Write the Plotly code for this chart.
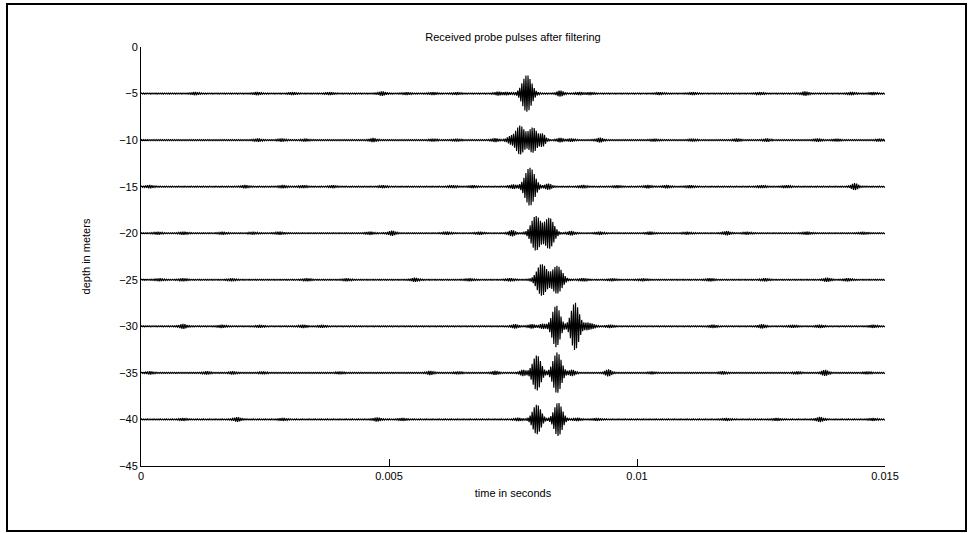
import numpy as np
import plotly.graph_objects as go

# ---------------- data ----------------
DEPTHS = [-5, -10, -15, -20, -25, -30, -35, -40]          # m (trace baselines)
T_END_S = 0.015
X_TICKS = [0, 0.005, 0.01, 0.015]
X_TICK_TEXT = ["0", "0.005", "0.01", "0.015"]
Y_TICKS = [0, -5, -10, -15, -20, -25, -30, -35, -40, -45]
Y_TICK_TEXT = ["0", "\u22125", "\u221210", "\u221215", "\u221220", "\u221225",
               "\u221230", "\u221235", "\u221240", "\u221245"]

# main received pulses per trace: centre (ms), peak amplitude (m units), envelope width (ms)
PULSE_MS = [[7.78], [7.64, 7.90, 8.10], [7.84], [7.96, 8.23], [8.08, 8.39],
            [8.37, 8.75], [7.98, 8.39], [7.98, 8.41]]
PULSE_AMP = [[1.93], [1.5, 1.3, 0.6], [2.0], [1.8, 1.6], [1.65, 1.45],
             [2.2, 2.5], [1.85, 2.15], [1.55, 1.75]]
PULSE_WIDTH_MS = [[0.092], [0.085, 0.085, 0.05], [0.095], [0.09, 0.09], [0.095, 0.095],
                  [0.078, 0.078], [0.08, 0.082], [0.08, 0.08]]

# small echoes / clutter bursts along each trace: centre (ms) and amplitude
ECHO_MS = [
    [1.09, 2.34, 3.06, 3.81, 4.86, 5.36, 5.89, 6.37, 7.20, 7.38, 8.45, 8.85, 9.05, 10.46, 11.13, 12.48, 13.39, 14.33, 14.76],
    [2.36, 2.84, 3.31, 4.68, 5.89, 6.37, 7.14, 7.44, 8.45, 8.67, 9.25, 10.36, 11.13, 12.02, 12.62, 13.65, 14.03, 14.90],
    [0.18, 2.10, 2.86, 3.27, 3.87, 4.88, 6.29, 6.69, 7.50, 8.21, 8.91, 9.60, 10.22, 10.60, 11.07, 12.52, 13.02, 14.39],
    [0.34, 0.85, 1.65, 2.26, 2.80, 4.62, 5.06, 6.17, 6.83, 7.48, 8.67, 9.25, 10.26, 11.01, 11.81, 12.22, 13.43, 14.56],
    [0.38, 0.85, 1.83, 3.35, 4.15, 5.52, 6.63, 7.44, 8.91, 9.50, 10.12, 11.47, 12.58, 13.83, 14.25],
    [0.85, 1.63, 2.40, 3.27, 3.65, 7.54, 7.88, 8.10, 8.99, 9.11, 9.46, 11.53, 12.52, 13.14, 13.69, 14.76],
    [0.18, 1.33, 1.85, 2.46, 4.01, 5.83, 6.39, 7.14, 7.70, 8.69, 9.42, 10.30, 11.73, 13.23, 13.79, 14.64],
    [0.85, 1.94, 2.86, 4.76, 5.28, 7.60, 8.80, 9.19, 11.81, 12.82, 13.69, 14.76],
]
ECHO_AMP = [
    [0.12, 0.12, 0.10, 0.10, 0.18, 0.10, 0.10, 0.10, 0.15, 0.12, 0.28, 0.12, 0.10, 0.10, 0.10, 0.10, 0.18, 0.12, 0.10],
    [0.12, 0.12, 0.10, 0.17, 0.10, 0.10, 0.15, 0.32, 0.18, 0.12, 0.20, 0.10, 0.10, 0.12, 0.12, 0.12, 0.10, 0.10],
    [0.12, 0.12, 0.12, 0.10, 0.10, 0.10, 0.10, 0.10, 0.18, 0.28, 0.12, 0.10, 0.12, 0.12, 0.10, 0.10, 0.10, 0.32],
    [0.10, 0.12, 0.10, 0.10, 0.12, 0.12, 0.22, 0.12, 0.12, 0.28, 0.18, 0.12, 0.12, 0.10, 0.17, 0.10, 0.12, 0.10],
    [0.10, 0.10, 0.10, 0.10, 0.10, 0.17, 0.10, 0.12, 0.12, 0.10, 0.10, 0.12, 0.12, 0.17, 0.12],
    [0.22, 0.12, 0.10, 0.12, 0.10, 0.18, 0.18, 0.22, 0.32, 0.18, 0.12, 0.12, 0.17, 0.10, 0.12, 0.12],
    [0.12, 0.12, 0.12, 0.10, 0.10, 0.17, 0.10, 0.17, 0.28, 0.28, 0.32, 0.10, 0.12, 0.10, 0.28, 0.10],
    [0.10, 0.20, 0.10, 0.17, 0.10, 0.12, 0.12, 0.10, 0.10, 0.10, 0.22, 0.10],
]
ECHO_WIDTH_MS = 0.06
BASE_AMP = 0.06          # residual noise level on every trace
CARRIER_HZ = 24000.0     # probe carrier frequency
N_SAMPLES = 6001

# ---------------- build figure ----------------
t = np.linspace(0.0, T_END_S, N_SAMPLES)
t_ms = t * 1000.0
carrier = np.sin(2 * np.pi * CARRIER_HZ * t)

fig = go.Figure()
for i, d in enumerate(DEPTHS):
    env = np.full_like(t, BASE_AMP)
    for c, a, w in zip(PULSE_MS[i], PULSE_AMP[i], PULSE_WIDTH_MS[i]):
        env += a * np.exp(-0.5 * ((t_ms - c) / w) ** 2)
    for c, a in zip(ECHO_MS[i], ECHO_AMP[i]):
        env += a * np.exp(-0.5 * ((t_ms - c) / ECHO_WIDTH_MS) ** 2)
    fig.add_trace(go.Scatter(x=t, y=d + env * carrier, mode="lines",
                             line=dict(color="black", width=1.15),
                             hoverinfo="skip", showlegend=False))

FONT = "Liberation Sans, Arial, Helvetica, sans-serif"
axis_common = dict(showgrid=False, zeroline=False, showline=True, linecolor="black",
                   linewidth=1, ticks="inside", ticklen=7, tickcolor="black",
                   tickfont=dict(family=FONT, size=11, color="black"), mirror=False)

fig.update_layout(
    width=975, height=533,
    margin=dict(l=141, r=90, t=47, b=67),
    paper_bgcolor="white", plot_bgcolor="white",
    font=dict(family=FONT, size=11, color="black"),
    title=dict(text="Received probe pulses after filtering", x=0.5, xref="paper",
               xanchor="center", y=1 - 37 / 533, yref="container", yanchor="middle",
               font=dict(family=FONT, size=11, color="black")),
    xaxis=dict(range=[0, T_END_S], tickvals=X_TICKS, ticktext=X_TICK_TEXT,
               title=dict(text="time in seconds", standoff=8,
                          font=dict(family=FONT, size=11)), **axis_common),
    yaxis=dict(range=[-45, 0], tickvals=Y_TICKS, ticktext=Y_TICK_TEXT,
               title=dict(text="depth in meters", standoff=26,
                          font=dict(family=FONT, size=11)), **axis_common),
    shapes=[dict(type="rect", xref="paper", yref="paper",
                 x0=(7 - 141) / 744, x1=(966 - 141) / 744,
                 y0=(466 - 531) / 419, y1=(466 - 4) / 419,
                 line=dict(color="black", width=2), layer="below")],
)

fig.write_html("out.html", config={"displayModeBar": False},
               post_script="document.body.style.margin='0';document.body.style.overflow='hidden';")
